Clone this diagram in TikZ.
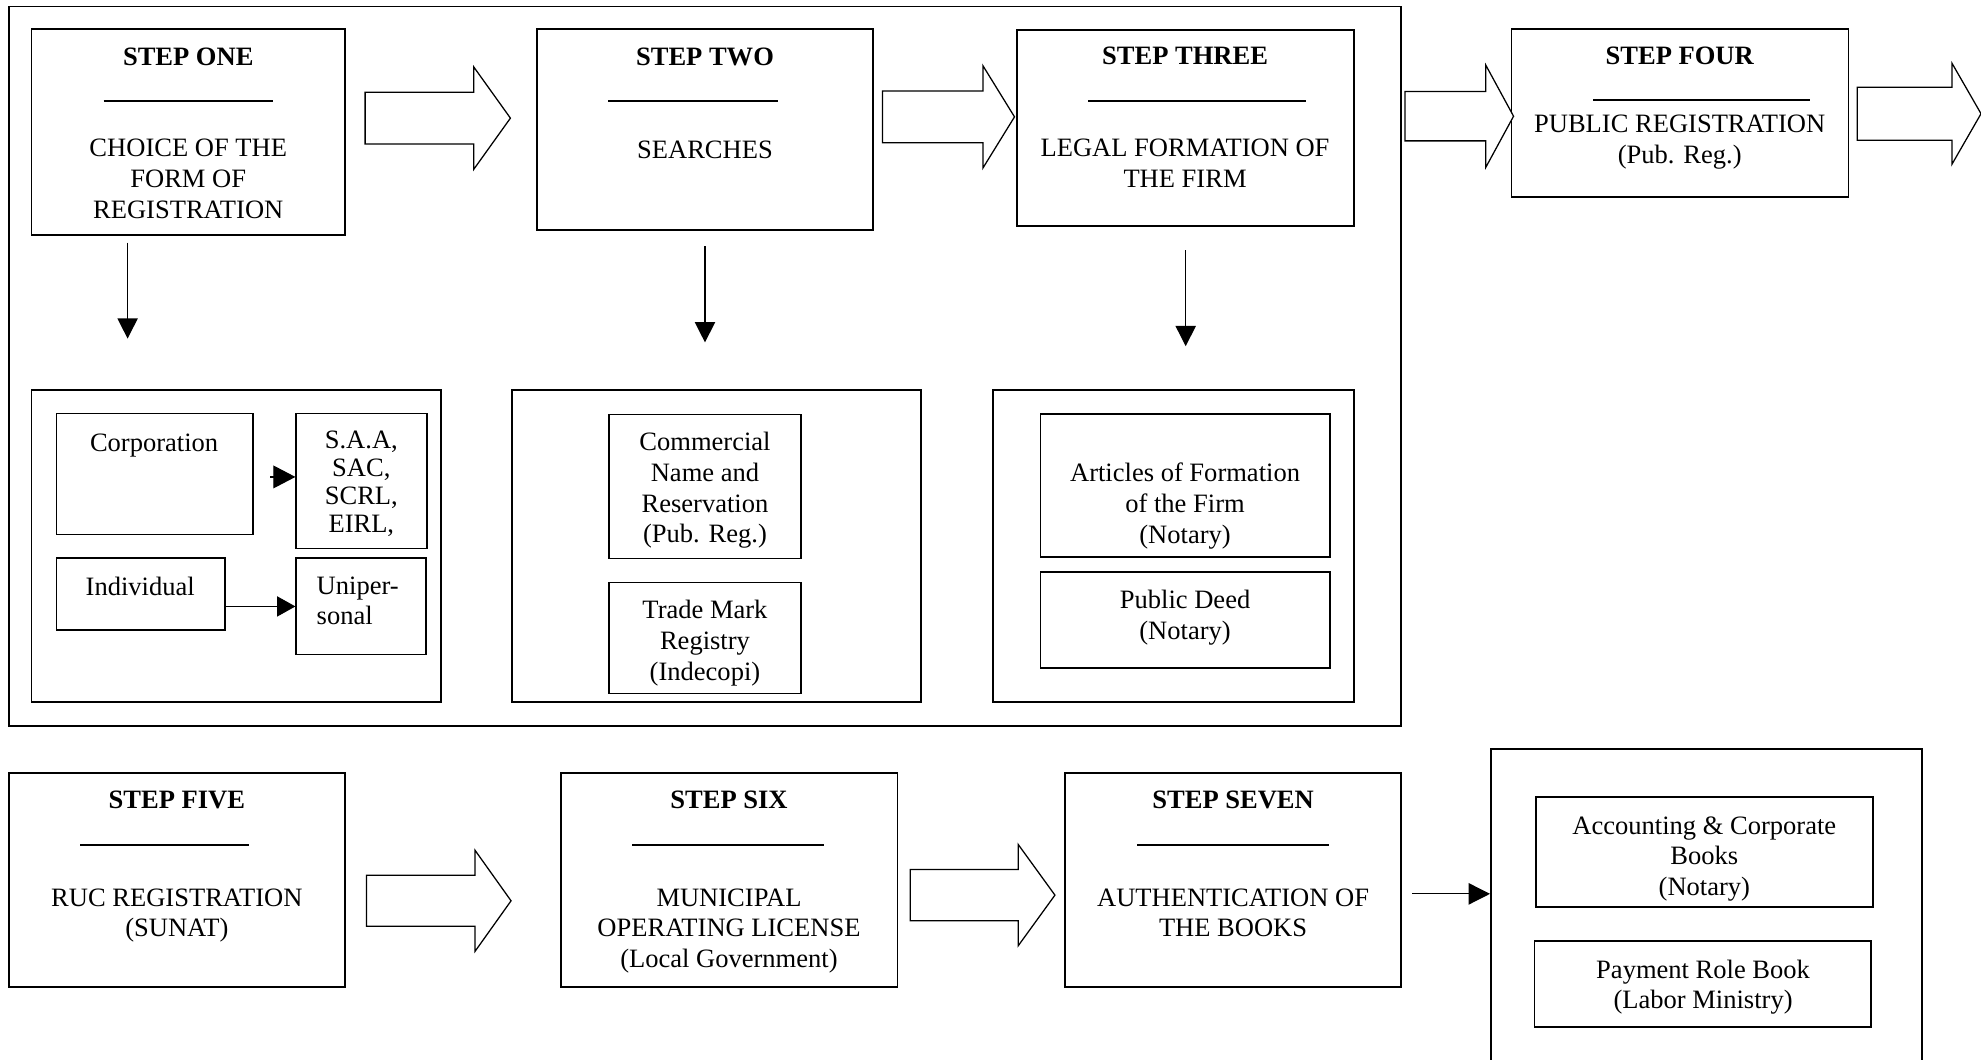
\documentclass[tikz,border=0pt]{standalone}
\usepackage{fontspec}
\setmainfont{Liberation Serif}
\usetikzlibrary{arrows.meta,fit}
\tikzset{
  box/.style={draw, line width=1.3pt, inner sep=0pt},
  txt/.style={align=center, inner sep=0pt, anchor=north, font=\fontsize{21}{24.3}\selectfont},
  ttl/.style={inner sep=0pt, anchor=north, font=\fontsize{21}{24.3}\selectfont\bfseries},
  titlerule/.style={line width=1.3pt},
  thinarrow/.style={line width=1pt, -{Triangle[length=16pt,width=16pt]}},
  blockarrow/.style={draw, line width=1pt, fill=white, line join=miter},
}
% x0, head base, tip, centre y, shaft half height, head half height
\newcommand\blkarrow[6]{%
  \draw[blockarrow] ({#1},{#4-#5}) -- ({#2},{#4-#5}) -- ({#2},{#4-#6}) -- ({#3},{#4})
    -- ({#2},{#4+#6}) -- ({#2},{#4+#5}) -- ({#1},{#4+#5}) -- cycle;}
\begin{document}
\begin{tikzpicture}[x=1pt,y=-1pt]
\useasboundingbox (0,0) rectangle (1568,839);
\fill[white] (0,0) rectangle (1568,839);
\clip (0,0) rectangle (1568,839);

% outer frame of steps one to three
\node[box, fit={(7,5) (1109,574.5)}] (frame) {};

% ---------- step boxes, top row ----------
\node[box, fit={(25,23) (273,186)}] (s1) {};
\node[ttl] (s1t) at (149,38) {STEP ONE};
\draw[titlerule] (82,80) -- (216,80);
\node[txt] (s1b) at (149,110) {CHOICE OF THE\\FORM OF\\REGISTRATION};

\node[box, fit={(425,23) (691,182)}] (s2) {};
\node[ttl] (s2t) at (558,38) {STEP TWO};
\draw[titlerule] (481.5,80) -- (615.5,80);
\node[txt] (s2b) at (558,111) {SEARCHES};

\node[box, fit={(805,23.5) (1071.5,179)}] (s3) {};
\node[ttl] (s3t) at (938,37) {STEP THREE};
\draw[titlerule] (861.5,80) -- (1033.5,80);
\node[txt] (s3b) at (938,110) {LEGAL FORMATION OF\\THE FIRM};

\node[box, fit={(1196.5,23) (1463,156)}] (s4) {};
\node[ttl] (s4t) at (1329.5,37) {STEP FOUR};
\draw[titlerule] (1261,79) -- (1433,79);
\node[txt] (s4b) at (1329.5,91) {PUBLIC REGISTRATION\\(Pub. Reg.)};

% block arrows, top row
\blkarrow{289}{375}{404}{93.5}{20.5}{40.5}
\blkarrow{698.5}{778}{803}{92.5}{20.5}{40.5}
\blkarrow{1112}{1176}{1198}{92}{19.5}{40.5}
\blkarrow{1470}{1545}{1568}{90}{21}{40}

% down arrows
\coordinate (d1a) at (101,192);   \coordinate (d1b) at (101,268);
\coordinate (d2a) at (558,195);   \coordinate (d2b) at (558,271);
\coordinate (d3a) at (938.5,198); \coordinate (d3b) at (938.5,274);
\draw[thinarrow] (d1a) -- (d1b);
\draw[thinarrow] (d2a) -- (d2b);
\draw[thinarrow] (d3a) -- (d3b);

% ---------- sub-boxes of step one ----------
\node[box, fit={(25,308.5) (349,555.5)}] (boxA) {};
\node[box, fit={(44.6,327.3) (200,423)}] (corp) {};
\node[txt] (corpt) at (122,343) {Corporation};
\node[box, fit={(234.5,327.3) (338,434)}] (saa) {};
\node[txt, font=\fontsize{21}{22.2}\selectfont] (saat) at (286,341) {S.A.A,\\SAC,\\SCRL,\\EIRL,};
\node[box, fit={(44.6,441.8) (178,498.7)}] (indiv) {};
\node[txt] (indivt) at (111,456.5) {Individual};
\node[box, fit={(234.5,441.8) (337,518)}] (unip) {};
\node[txt, align=left, anchor=north west, font=\fontsize{21}{23.5}\selectfont] (unipt) at (250.5,456.5) {Uniper-\\sonal};
\draw[line width=1pt, -{Triangle[length=17.5pt,width=18pt]}] (214,377.5) -- (saa.west |- 0,377.5);
\draw[line width=1pt, -{Triangle[length=14.6pt,width=16pt]}] (indiv.east |- 0,480) -- (unip.west |- 0,480);

% ---------- sub-boxes of step two ----------
\node[box, fit={(405.5,308.5) (729,555.5)}] (boxB) {};
\node[box, fit={(482,328) (634,442)}] (comm) {};
\node[txt] (commt) at (558,342) {Commercial\\Name and\\Reservation\\(Pub. Reg.)};
\node[box, fit={(482,461) (634,549)}] (trade) {};
\node[txt] (tradet) at (558,475) {Trade Mark\\Registry\\(Indecopi)};

% ---------- sub-boxes of step three ----------
\node[box, fit={(786,308.5) (1071.5,555.5)}] (boxC) {};
\node[box, fit={(823.5,327.5) (1052.5,441)}] (art) {};
\node[txt] (artt) at (938,366.5) {Articles of Formation\\of the Firm\\(Notary)};
\node[box, fit={(823.5,452.5) (1052.5,528.5)}] (deed) {};
\node[txt] (deedt) at (938,467) {Public Deed\\(Notary)};

% ---------- bottom row ----------
\node[box, fit={(7,612) (273,781)}] (s5) {};
\node[ttl] (s5t) at (140,626) {STEP FIVE};
\draw[titlerule] (63.5,669) -- (197,669);
\node[txt] (s5b) at (140,703) {RUC REGISTRATION\\(SUNAT)};

\node[box, fit={(444,612) (710.5,781)}] (s6) {};
\node[ttl] (s6t) at (577,626) {STEP SIX};
\draw[titlerule] (500.5,669) -- (652.5,669);
\node[txt] (s6b) at (577,703) {MUNICIPAL\\OPERATING LICENSE\\(Local Government)};

\node[box, fit={(843,612) (1109,781)}] (s7) {};
\node[ttl] (s7t) at (976,626) {STEP SEVEN};
\draw[titlerule] (900,669) -- (1052,669);
\node[txt] (s7b) at (976,703) {AUTHENTICATION OF\\THE BOOKS};

\blkarrow{290}{376}{404.5}{713}{20.2}{40}
\blkarrow{720.5}{806}{835}{708.5}{20.2}{40}

\node[box, fit={(1180,593) (1521.5,870)}] (rb) {};
\node[box, fit={(1216,631) (1482.5,718)}] (acc) {};
\node[txt] (acct) at (1349,646) {Accounting \& Corporate\\Books\\(Notary)};
\node[box, fit={(1214.5,745) (1481,813)}] (pay) {};
\node[txt] (payt) at (1348,759.5) {Payment Role Book\\(Labor Ministry)};

\coordinate (s7out) at (1118,707.5);
\draw[line width=1pt, -{Triangle[length=17pt,width=17pt]}] (s7out) -- (rb.west |- s7out);
\end{tikzpicture}
\end{document}
